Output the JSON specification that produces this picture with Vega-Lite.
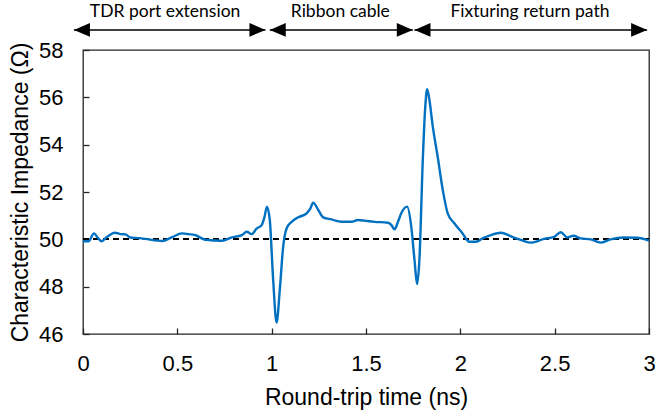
{
  "$schema": "https://vega.github.io/schema/vega-lite/v6.json",
  "width": 566,
  "height": 284,
  "autosize": {"type": "none"},
  "padding": {"left": 83, "top": 50, "right": 7, "bottom": 80},
  "background": "white",
  "config": {
    "view": {"stroke": "#262626", "strokeWidth": 1.3},
    "axis": {
      "domain": false,
      "grid": false,
      "labelFlush": false,
      "labelOverlap": false,
      "labelFont": "Liberation Sans",
      "labelFontSize": 22,
      "labelColor": "#000000",
      "titleFont": "Liberation Sans",
      "titleFontSize": 23,
      "titleFontWeight": "normal",
      "titleColor": "#000000",
      "tickColor": "#262626",
      "tickWidth": 1.3
    }
  },
  "datasets": {
    "tdr": [
      {"t": 0.0, "z": 49.92}, {"t": 0.03, "z": 49.92}, {"t": 0.058, "z": 50.25}, {"t": 0.08, "z": 50.05},
      {"t": 0.097, "z": 49.92}, {"t": 0.13, "z": 50.12}, {"t": 0.169, "z": 50.28}, {"t": 0.2, "z": 50.22},
      {"t": 0.225, "z": 50.21}, {"t": 0.25, "z": 50.08}, {"t": 0.3, "z": 50.05}, {"t": 0.348, "z": 50.0},
      {"t": 0.39, "z": 49.95}, {"t": 0.419, "z": 49.93}, {"t": 0.47, "z": 50.08}, {"t": 0.525, "z": 50.25},
      {"t": 0.56, "z": 50.22}, {"t": 0.595, "z": 50.18}, {"t": 0.648, "z": 49.98}, {"t": 0.7, "z": 49.95},
      {"t": 0.736, "z": 49.94}, {"t": 0.789, "z": 50.08}, {"t": 0.842, "z": 50.18}, {"t": 0.868, "z": 50.32},
      {"t": 0.894, "z": 50.22}, {"t": 0.921, "z": 50.46}, {"t": 0.947, "z": 50.6}, {"t": 0.962, "z": 50.95},
      {"t": 0.975, "z": 51.38}, {"t": 0.99, "z": 50.82}, {"t": 1.008, "z": 48.28}, {"t": 1.026, "z": 46.48},
      {"t": 1.043, "z": 47.86}, {"t": 1.061, "z": 49.69}, {"t": 1.079, "z": 50.46}, {"t": 1.106, "z": 50.74},
      {"t": 1.141, "z": 50.93}, {"t": 1.185, "z": 51.1}, {"t": 1.205, "z": 51.3}, {"t": 1.22, "z": 51.55},
      {"t": 1.247, "z": 51.24}, {"t": 1.273, "z": 50.93}, {"t": 1.317, "z": 50.84}, {"t": 1.37, "z": 50.74},
      {"t": 1.423, "z": 50.74}, {"t": 1.458, "z": 50.82}, {"t": 1.5, "z": 50.78}, {"t": 1.546, "z": 50.74},
      {"t": 1.616, "z": 50.7}, {"t": 1.635, "z": 50.6}, {"t": 1.651, "z": 50.42}, {"t": 1.67, "z": 50.75},
      {"t": 1.687, "z": 51.1}, {"t": 1.718, "z": 51.38}, {"t": 1.74, "z": 50.53}, {"t": 1.757, "z": 49.13},
      {"t": 1.771, "z": 48.11}, {"t": 1.783, "z": 49.13}, {"t": 1.801, "z": 53.35}, {"t": 1.813, "z": 55.46},
      {"t": 1.824, "z": 56.34}, {"t": 1.836, "z": 55.9}, {"t": 1.854, "z": 54.76}, {"t": 1.88, "z": 53.49},
      {"t": 1.907, "z": 52.08}, {"t": 1.933, "z": 51.1}, {"t": 1.968, "z": 50.68}, {"t": 2.012, "z": 50.25},
      {"t": 2.047, "z": 49.9}, {"t": 2.083, "z": 49.9}, {"t": 2.12, "z": 50.05}, {"t": 2.162, "z": 50.18},
      {"t": 2.215, "z": 50.28}, {"t": 2.285, "z": 50.07}, {"t": 2.33, "z": 49.95}, {"t": 2.373, "z": 49.86},
      {"t": 2.444, "z": 50.02}, {"t": 2.497, "z": 50.1}, {"t": 2.532, "z": 50.3}, {"t": 2.567, "z": 50.08},
      {"t": 2.599, "z": 50.15}, {"t": 2.638, "z": 50.04}, {"t": 2.691, "z": 50.0}, {"t": 2.743, "z": 49.86},
      {"t": 2.796, "z": 50.0}, {"t": 2.866, "z": 50.08}, {"t": 2.937, "z": 50.07}, {"t": 3.0, "z": 49.95}
    ],
    "sections": [
      {"name": "TDR port extension", "start": -0.048, "end": 0.967, "labelAt": 0.435},
      {"name": "Ribbon cable", "start": 0.99, "end": 1.748, "labelAt": 1.364},
      {"name": "Fixturing return path", "start": 1.757, "end": 2.99, "labelAt": 2.369}
    ]
  },
  "layer": [
    {
      "data": {"name": "tdr"},
      "mark": {"type": "rule", "color": "#000000", "strokeWidth": 1.5, "strokeDash": [6, 4]},
      "encoding": {"y": {"datum": 50}}
    },
    {
      "data": {"name": "tdr"},
      "mark": {"type": "line", "color": "#0070C0", "strokeWidth": 2.4, "interpolate": "monotone"},
      "encoding": {
        "x": {
          "field": "t", "type": "quantitative",
          "scale": {"domain": [0, 3], "nice": false, "zero": false},
          "axis": {
            "values": [0, 0.5, 1, 1.5, 2, 2.5, 3],
            "labelExpr": "'' + datum.value",
            "tickSize": -6,
            "labelPadding": 25,
            "title": "Round-trip time (ns)",
            "titlePadding": 12
          }
        },
        "y": {
          "field": "z", "type": "quantitative",
          "scale": {"domain": [46, 58], "nice": false, "zero": false},
          "axis": {
            "values": [46, 48, 50, 52, 54, 56, 58],
            "tickSize": -6,
            "labelPadding": 26,
            "title": "Characteristic Impedance (Ω)",
            "titlePadding": 6
          }
        }
      }
    },
    {
      "data": {"name": "sections"},
      "mark": {"type": "rule", "color": "#000000", "strokeWidth": 1.5},
      "encoding": {
        "x": {"field": "start", "type": "quantitative"},
        "x2": {"field": "end"},
        "y": {"datum": 58.85}
      }
    },
    {
      "data": {"name": "sections"},
      "mark": {"type": "point", "filled": true, "color": "#000000", "opacity": 1, "size": 256,
               "shape": "M0,0L2,-0.85L2,0.85Z"},
      "encoding": {
        "x": {"field": "start", "type": "quantitative"},
        "y": {"datum": 58.85}
      }
    },
    {
      "data": {"name": "sections"},
      "mark": {"type": "point", "filled": true, "color": "#000000", "opacity": 1, "size": 256,
               "shape": "M0,0L-2,-0.85L-2,0.85Z"},
      "encoding": {
        "x": {"field": "end", "type": "quantitative"},
        "y": {"datum": 58.85}
      }
    },
    {
      "data": {"name": "sections"},
      "mark": {"type": "text", "font": "Lato", "fontSize": 17.5, "color": "#000000", "baseline": "alphabetic", "align": "center"},
      "encoding": {
        "x": {"field": "labelAt", "type": "quantitative"},
        "y": {"datum": 59.41},
        "text": {"field": "name"}
      }
    }
  ]
}
